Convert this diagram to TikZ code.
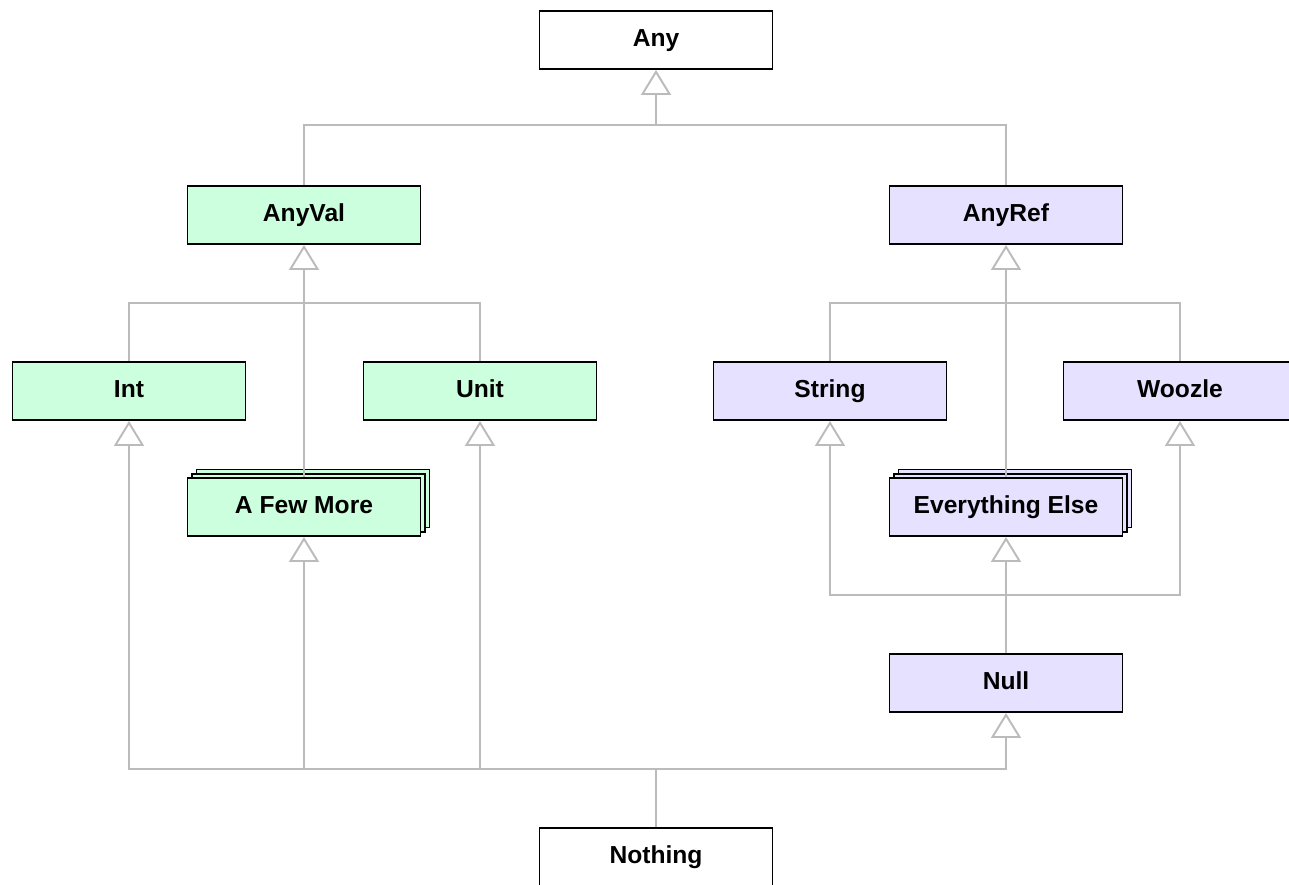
\documentclass[tikz,border=0pt]{standalone}
\usepackage{fontspec}
\setmainfont{Liberation Sans}
\usetikzlibrary{arrows.meta,shadows}
\definecolor{valgreen}{RGB}{204,255,221}
\definecolor{refblue}{RGB}{229,225,255}
\definecolor{linkgray}{RGB}{187,187,187}
\begin{document}
\begin{tikzpicture}[x=0.02cm,y=-0.02cm]
\tikzstyle{type}=[draw,line width=1.1pt,minimum width=4.66cm,minimum height=1.16cm,text height=1.6ex,text depth=0.2ex,font=\fontsize{14}{16}\selectfont\bfseries];
\tikzstyle{val}=[type,fill=valgreen];
\tikzstyle{ref}=[type,fill=refblue];
\tikzstyle{many}=[double copy shadow={shadow xshift=0.09cm,shadow yshift=0.085cm}];
\tikzstyle{link}=[linkgray,line width=1.1pt];
\tikzstyle{isa}=[link,-{Triangle[open,fill=white,length=0.5cm,width=0.6cm]}];
\useasboundingbox (0,0) rectangle (1289,885);
\node [type,fill=white] (any) at (656,40) {Any};
\node [val] (anyval) at (304,215) {AnyVal};
\node [ref] (anyref) at (1006,215) {AnyRef};
\node [val] (int) at (129,391) {Int};
\node [val] (unit) at (480,391) {Unit};
\node [ref] (string) at (830,391) {String};
\node [ref] (woozle) at (1180,391) {Woozle};
\node [val,many] (fewmore) at (304,507) {A Few More};
\node [ref,many] (others) at (1006,507) {Everything Else};
\node [ref] (null) at (1006,683) {Null};
\node [type,fill=white] (nothing) at (656,857) {Nothing};

\coordinate (top) at (656,125);
\coordinate (valsplit) at (304,303);
\coordinate (refsplit) at (1006,303);
\coordinate (nullsplit) at (1006,595);
\coordinate (bottom) at (656,769);

\draw [link] (anyval) |- (top) -| (anyref);
\draw [isa] (top) -- (any);
\draw [link] (int) |- (valsplit) -| (unit);
\draw [isa] (fewmore) -- (anyval);
\draw [link] (string) |- (refsplit) -| (woozle);
\draw [isa] (others) -- (anyref);
\draw [isa] (nullsplit) -| (string);
\draw [isa] (nullsplit) -| (woozle);
\draw [isa] (null) -- (others);
\draw [link] (nothing) -- (bottom);
\draw [isa] (bottom) -| (int);
\draw [isa] (bottom) -| (fewmore);
\draw [isa] (bottom) -| (unit);
\draw [isa] (bottom) -| (null);
\end{tikzpicture}
\end{document}
